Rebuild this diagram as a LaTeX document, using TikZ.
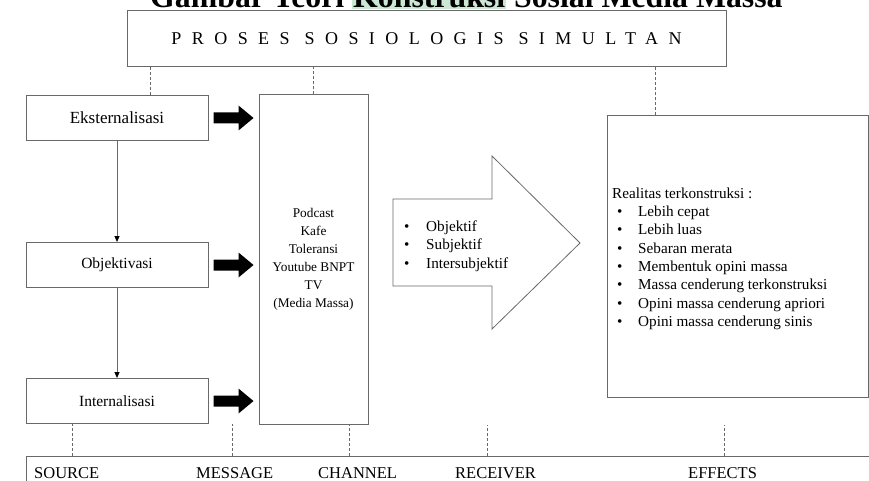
\documentclass[tikz,border=0pt]{standalone}
\usepackage{fontspec}
\setmainfont{Liberation Serif}
\newfontfamily\spacedserif[LetterSpace=58]{Liberation Serif}
\usepackage{xcolor}
\definecolor{framegray}{RGB}{105,105,105}
\definecolor{markgreen}{RGB}{204,231,211}
\usepackage{tikz}
\usetikzlibrary{positioning,arrows.meta,calc}
\tikzset{
  panel/.style   ={rectangle,draw=framegray,line width=1pt,inner sep=0pt},
  phase/.style   ={panel,minimum width=182pt,minimum height=45pt,font=\fontsize{15.5}{18}\selectfont},
  media/.style   ={panel,minimum width=109pt,minimum height=329pt,align=center,
                   font=\fontsize{13.3}{18}\selectfont},
  guide/.style   ={draw=framegray,line width=0.8pt,dash pattern=on 3pt off 2pt},
  flow/.style    ={-{Triangle[length=6pt,width=5pt,color=black]},draw=framegray,line width=1pt},
  bigarrow/.style={draw=framegray,line width=0.8pt,fill=white},
  listtext/.style={anchor=base west,inner sep=0pt,font=\fontsize{15.2}{18.35}\selectfont},
  stage/.style   ={anchor=base west,inner sep=0pt,font=\fontsize{16.5}{18}\selectfont},
}

\begin{document}
\begin{tikzpicture}[x=1pt,y=-1pt]
  \useasboundingbox (0,0) rectangle (869,481);
  \node[anchor=base west,inner sep=0pt,font=\bfseries\fontsize{31.8}{36}\selectfont] (title) at (150,8)
    {Gambar Teori {\setlength{\fboxsep}{1pt}\colorbox{markgreen}{Konstruksi}} Sosial Media Massa};
  \node[panel,minimum width=599pt,minimum height=56pt,font=\spacedserif\fontsize{18}{20}\selectfont]
    (proses) at (426.5,39) {PROSES SOSIOLOGIS SIMULTAN};

  \node[phase,font=\fontsize{17}{18}\selectfont] (ekst) at (117,118) {Eksternalisasi};
  \node[phase] (obj) at (117,265) {Objektivasi};
  \node[phase] (intl) at (117,401) {Internalisasi};
  \node[media] (channel) at (313.5,259.5) {Podcast\\Kafe\\Toleransi\\Youtube BNPT\\TV\\(Media Massa)};
  \node[panel,minimum width=261pt,minimum height=281pt] (effects) at (737.5,256.5) {};

  \draw[flow] (ekst) -- (obj);
  \draw[flow] (obj) -- (intl);
  \foreach \n in {ekst,obj,intl}
    \fill ($(\n.east)+(5,-5.5)$) -- ++(25,0) -- ++(0,-7) -- ++(15,12.5) -- ++(-15,12.5)
      -- ++(0,-7) -- ++(-25,0) -- cycle;

  \draw[bigarrow] (393,199) -- (492,199) -- (492,156) -- (580,243) -- (492,329) -- (492,286)
    -- (393,286) -- cycle;
  \node[listtext] (kinds) at (404,231.5)
    {\begin{tabular}[t]{@{}p{22pt}@{}l@{}}
      \textbullet & Objektif\\ \textbullet & Subjektif\\ \textbullet & Intersubjektif
    \end{tabular}};
  \node[listtext] (reality) at (612,198)
    {\begin{tabular}[t]{@{\hspace{5pt}}p{21pt}@{}l@{}}
      \multicolumn{2}{@{}l@{}}{Realitas terkonstruksi :}\\
      \textbullet & Lebih cepat\\
      \textbullet & Lebih luas\\
      \textbullet & Sebaran merata\\
      \textbullet & Membentuk opini massa\\
      \textbullet & Massa cenderung terkonstruksi\\
      \textbullet & Opini massa cenderung apriori\\
      \textbullet & Opini massa cenderung sinis
    \end{tabular}};

  \draw[guide] ([xshift=33pt]ekst.north) -- ([xshift=33pt]ekst.north |- proses.south);
  \draw[guide] (channel.north) -- (channel.north |- proses.south);
  \draw[guide] ([xshift=-82.5pt]effects.north) -- ([xshift=-82.5pt]effects.north |- proses.south);

  \draw[draw=framegray,line width=1pt] (26,490) |- (875,456);
  \coordinate (srcdrop) at (72,456);
  \coordinate (msgdrop) at (232,456);
  \coordinate (chdrop) at (349,456);
  \coordinate (recdrop) at (487,456);
  \coordinate (effdrop) at (724,456);
  \draw[guide] (srcdrop) -- (srcdrop |- intl.south);
  \draw[guide] (msgdrop) -- (msgdrop |- intl.south);
  \draw[guide] (chdrop) -- (chdrop |- channel.south);
  \draw[guide] (recdrop) -- (recdrop |- channel.south);
  \draw[guide] (effdrop) -- (effdrop |- channel.south);

  \node[stage] (source) at (34,478) {SOURCE};
  \node[stage] (message) at (196,478) {MESSAGE};
  \node[stage] (chlabel) at (318,478) {CHANNEL};
  \node[stage] (receiver) at (455,478) {RECEIVER};
  \node[stage] (efflabel) at (688,478) {EFFECTS};
\end{tikzpicture}
\end{document}
